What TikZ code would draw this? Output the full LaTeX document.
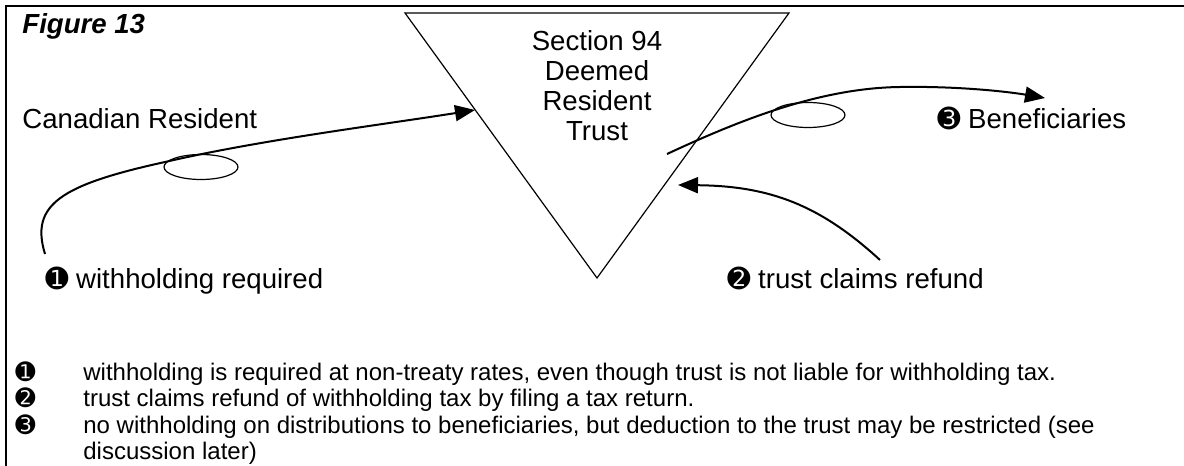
\documentclass[tikz,border=0pt]{standalone}
\usepackage{fontspec}
\setmainfont{Liberation Sans}
\newfontfamily\dingfont{DejaVu Sans}
\usetikzlibrary{arrows.meta}
\usetikzlibrary{shapes.geometric}

\newcommand{\numbul}[1]{{\dingfont #1}}

\begin{document}
\begin{tikzpicture}[x=0.5pt, y=-0.5pt,
  paths/.style={-{Triangle[length=10pt,width=8pt]}, line width=1pt},
  label/.style={inner sep=0, anchor=base west, font=\fontsize{13.8}{15}\selectfont},
  note/.style={inner sep=0, anchor=base west, font=\fontsize{12}{13.5}\selectfont},
  ring/.style={draw, ellipse, line width=0.6pt, minimum width=37pt, minimum height=12.5pt, inner sep=0}]

 \useasboundingbox (0,0) rectangle (1184,466);

 % frame
 \draw [line width=1pt] (6,466) -- (6,6) -- (1184,6);

 \node (figure) [label, font=\fontsize{13.8}{15}\selectfont\bfseries\itshape] at (22,33)
     {Figure 13};

 % the trust
 \coordinate (trust_left) at (405,13);
 \coordinate (trust_right) at (789,13);
 \coordinate (trust_tip) at (597,278);
 \draw [line width=0.6pt] (trust_left) -- (trust_right) -- (trust_tip) -- cycle;

 \node (trust) [inner sep=0, anchor=north, align=center, font=\fontsize{13.8}{15}\selectfont] at (597,30)
     {Section 94\\Deemed\\Resident\\Trust};

 \node (resident) [label] at (22,128)
     {Canadian Resident};

 \node (withholding) [label] at (45,288)
     {\numbul{➊} withholding required};

 \node (refund) [label] at (727,288)
     {\numbul{➋} trust claims refund};

 \node (beneficiaries) [label] at (937,128)
     {\numbul{➌} Beneficiaries};

 \node (ring_1) [ring] at (201,167) {};
 \node (ring_2) [ring] at (808,115) {};

 \coordinate (resident_start) at (45,254);
 \coordinate (resident_end) at (475,110);
 \coordinate (payout_start) at (667,154);
 \coordinate (payout_end) at (1045,98);
 \coordinate (refund_start) at (880,260);
 \coordinate (refund_end) at (678,185);

 \draw [paths] (resident_start) .. controls (30,205) and (60,185) .. (165,162)
     .. controls (260,140) and (380,125) .. (resident_end);
 \draw [paths] (payout_start) .. controls (740,120) and (820,88) .. (900,87)
     .. controls (960,86) and (1010,92) .. (payout_end);
 \draw [paths] (refund_start) .. controls (820,205) and (770,186) .. (refund_end);

 % notes
 \node (note_1_mark) [note, anchor=base] at (25.5,380) {\numbul{➊}};
 \node (note_1) [note] at (83,380)
     {withholding is required at non-treaty rates, even though trust is not liable for withholding tax.};
 \node (note_2_mark) [note, anchor=base] at (25.5,406) {\numbul{➋}};
 \node (note_2) [note] at (83,406)
     {trust claims refund of withholding tax by filing a tax return.};
 \node (note_3_mark) [note, anchor=base] at (25.5,433) {\numbul{➌}};
 \node (note_3) [note] at (83,433)
     {no withholding on distributions to beneficiaries, but deduction to the trust may be restricted (see};
 \node (note_3_more) [note] at (83,459)
     {discussion later)};

\end{tikzpicture}
\end{document}
